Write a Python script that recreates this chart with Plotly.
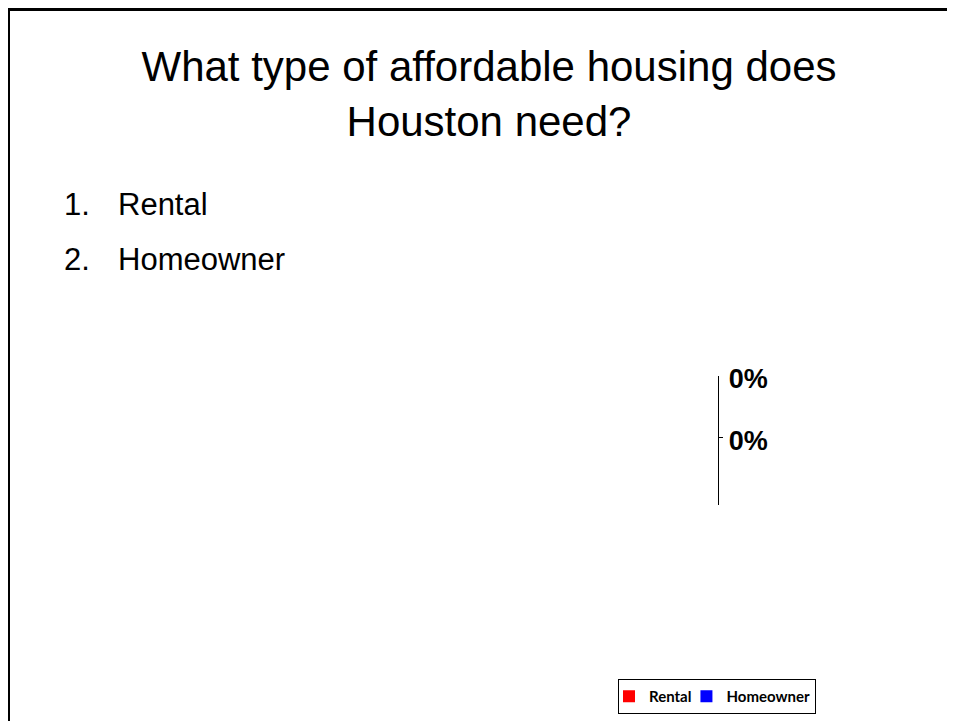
import plotly.graph_objects as go

# ---- data ----
categories = ["Rental", "Homeowner"]
values = [0, 0]
bar_colors = ["#FF0000", "#0000FF"]
list_numbers = ["1.", "2."]
title_lines = ["What type of affordable housing does", "Houston need?"]

W, H = 955, 721
PAGE_OFF = 8  # default body margin of the page

def px_x(v):
    return (v - PAGE_OFF) / W

def px_y(v):
    return 1 - (v - PAGE_OFF) / H

fig = go.Figure()
for cat, val, col in zip(categories, values, bar_colors):
    fig.add_trace(go.Bar(
        y=[cat], x=[val], name=cat, orientation="h",
        marker=dict(color=col, line=dict(width=0)),
        width=0.6, offset=-0.25,
        texttemplate="%{x:.0%}", textposition="outside",
        textfont=dict(family="Liberation Sans, Arial", size=27, color="#000000", weight="bold"),
        cliponaxis=False,
    ))

fig.update_layout(
    width=W, height=H,
    margin=dict(l=0, r=0, t=0, b=0),
    paper_bgcolor="white", plot_bgcolor="white",
    barmode="overlay",
    showlegend=True,
    title=dict(
        text="<br>".join(title_lines),
        x=px_x(489), xanchor="center",
        y=px_y(81), yanchor="top",
        font=dict(family="Liberation Sans, Arial", size=42, color="#000000"),
    ),
    xaxis=dict(
        domain=[px_x(719), px_x(919)],
        range=[-0.035, 1],
        visible=False,
    ),
    yaxis=dict(
        domain=[px_y(505), px_y(376)],
        type="category",
        categoryorder="array", categoryarray=categories,
        range=[2.1, 0],
        showline=True, linecolor="#000000", linewidth=1,
        ticks="inside", ticklen=4, tickcolor="#000000", tickwidth=1,
        showticklabels=False, showgrid=False, zeroline=False,
    ),
    legend=dict(
        orientation="h",
        x=px_x(618), xanchor="left",
        y=px_y(679), yanchor="top",
        bordercolor="#000000", borderwidth=1,
        bgcolor="white",
        font=dict(family="Lato, Calibri, sans-serif", size=15, color="#000000", weight="bold"),
        itemwidth=30,
        indentation=-10,
        traceorder="normal",
    ),
    font=dict(family="Liberation Sans, Arial", color="#000000"),
)

# numbered list
list_y = [204, 259]
for num, cat, yy in zip(list_numbers, categories, list_y):
    fig.add_annotation(text=num, x=px_x(62), y=px_y(yy), xref="paper", yref="paper",
                       xanchor="left", yanchor="middle", showarrow=False,
                       font=dict(family="Liberation Sans, Arial", size=31, color="#000000"))
    fig.add_annotation(text=cat, x=px_x(116), y=px_y(yy), xref="paper", yref="paper",
                       xanchor="left", yanchor="middle", showarrow=False,
                       font=dict(family="Liberation Sans, Arial", size=31, color="#000000"))

# slide border (left and top edges)
fig.add_shape(type="line", xref="paper", yref="paper",
              x0=px_x(8.5), x1=px_x(8.5), y0=0, y1=1,
              line=dict(color="#000000", width=3))
fig.add_shape(type="line", xref="paper", yref="paper",
              x0=0, x1=1, y0=px_y(9.5), y1=px_y(9.5),
              line=dict(color="#000000", width=3))

fig.write_html("out.html")
